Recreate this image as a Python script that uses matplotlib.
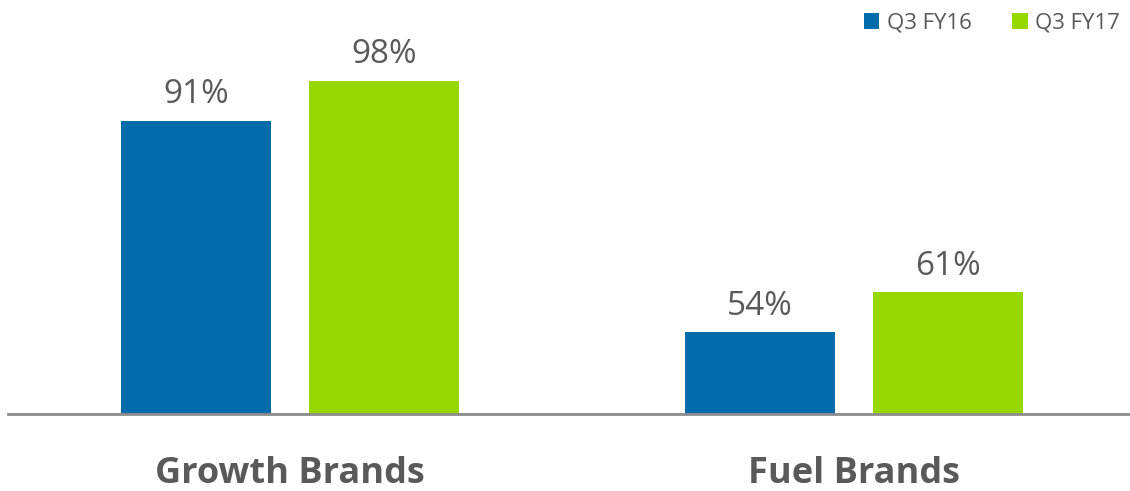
import matplotlib.pyplot as plt
import numpy as np

categories = ['Growth Brands', 'Fuel Brands']
series = ['Q3 FY16', 'Q3 FY17']
fy16 = [91, 54]
fy17 = [98, 61]

colors = ['#006DAA', '#97D700']
grey = '#595959'

plt.rcParams['font.family'] = ['Open Sans', 'DejaVu Sans']

fig = plt.figure(figsize=(11.3, 4.91), dpi=100)
W, H = 1130, 491
ax = fig.add_axes([8 / W, (H - 414) / H, 1 - 8 / W, (414 - 30) / H])

x = np.arange(len(categories))
width = 0.266
offset = 0.1667

for values, label, color, sign in zip([fy16, fy17], series, colors, [-1, 1]):
    bars = ax.bar(x + sign * offset, values, width, color=color, label=label, zorder=2)
    for bar, v in zip(bars, values):
        ax.annotate(
            f'{v}%',
            (bar.get_x() + bar.get_width() / 2, v),
            xytext=(0, 7), textcoords='offset points',
            ha='center', va='bottom', fontsize=24, color=grey,
        )

ax.set_xlim(-0.5, 1.489)
ax.set_ylim(39.7, 106.9)

for side in ['top', 'right', 'left']:
    ax.spines[side].set_visible(False)
ax.spines['bottom'].set_color('#8c8c8c')
ax.spines['bottom'].set_linewidth(2)
ax.set_yticks([])
ax.set_xticks(x)
ax.set_xticklabels(categories, fontsize=26, fontweight='bold', color=grey)
ax.tick_params(axis='x', length=0, pad=30)

fig.legend(
    loc='upper right', bbox_to_anchor=(1.009, 1.015), ncol=2, frameon=False,
    handlelength=0.7, handleheight=0.7, handletextpad=0.35, columnspacing=1.8,
    prop={'size': 16}, labelcolor=grey,
)

fig.savefig('out.png', dpi=100)
